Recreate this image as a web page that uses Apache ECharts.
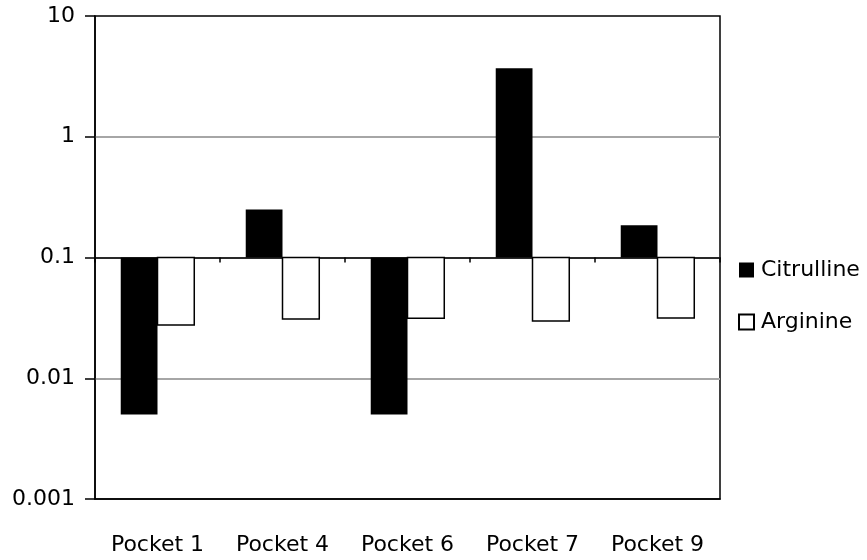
<!DOCTYPE html>
<html>
<head>
<meta charset="utf-8">
<script src="https://cdn.jsdelivr.net/npm/echarts@6/dist/echarts.min.js"></script>
<style>
html,body{margin:0;padding:0;background:#fff;}
#main{width:867px;height:560px;}
</style>
</head>
<body>
<div id="main"></div>
<script>
const categories = ['Pocket 1', 'Pocket 4', 'Pocket 6', 'Pocket 7', 'Pocket 9'];
const citrulline = [0.005, 0.25, 0.005, 3.7, 0.185];
const arginine = [0.0276, 0.031, 0.0314, 0.0298, 0.0316];
const yTickLabels = ['0.001', '0.01', '0.1', '1', '10'];
const baseline = 0.1;

const FONT = 'DejaVu Sans';
const chart = echarts.init(document.getElementById('main'), null, {renderer: 'canvas'});

function makeRender(seriesIdx, nSeries) {
  return function (params, api) {
    const xi = api.value(0);
    const v = api.value(1);
    const band = api.size([1, 0])[0];
    const bw = band / (nSeries + 1.4);
    const c = api.coord([xi, v]);
    const b = api.coord([xi, baseline]);
    const left = c[0] - (nSeries * bw) / 2 + seriesIdx * bw;
    const y0 = Math.min(c[1], b[1]);
    const h = Math.abs(c[1] - b[1]);
    return {
      type: 'rect',
      shape: {x: left, y: y0, width: bw, height: h},
      style: api.style()
    };
  };
}

const option = {
  backgroundColor: '#fff',
  animation: false,
  textStyle: {fontFamily: FONT},
  grid: [
    {left: 95, right: 147, top: 16, bottom: 61, show: true, borderColor: '#000', borderWidth: 1.5, backgroundColor: 'transparent'},
    {left: 95, right: 147, top: 257.5, height: 100, show: false}
  ],
  legend: {
    orient: 'vertical',
    left: 733,
    top: 254,
    itemWidth: 15,
    itemHeight: 15,
    itemGap: 30,
    icon: 'rect',
    textStyle: {fontFamily: FONT, fontSize: 22, color: '#000', lineHeight: 22, padding: [0, 0, 0, 2]},
    data: ['Citrulline', 'Arginine']
  },
  xAxis: [
    {
      type: 'category',
      gridIndex: 0,
      data: categories,
      position: 'bottom',
      axisLine: {show: true, onZero: false, lineStyle: {color: '#000', width: 1.5}},
      axisTick: {show: false},
      axisLabel: {fontFamily: FONT, fontSize: 22, color: '#000', margin: 35},
      splitLine: {show: false}
    },
    {
      type: 'category',
      gridIndex: 1,
      data: categories,
      position: 'top',
      axisLine: {show: true, onZero: false, lineStyle: {color: '#000', width: 1.5}},
      axisTick: {show: true, inside: true, length: 5, lineStyle: {color: '#000', width: 1.5}},
      axisLabel: {show: false},
      splitLine: {show: false}
    }
  ],
  yAxis: [
    {
      type: 'log',
      gridIndex: 0,
      logBase: 10,
      min: 0.001,
      max: 10,
      interval: 1,
      axisLine: {show: true, lineStyle: {color: '#000', width: 1.5}},
      axisTick: {show: true, length: 10, lineStyle: {color: '#000', width: 1.5}},
      axisLabel: {
        fontFamily: FONT, fontSize: 22, color: '#000', margin: 20,
        formatter: function (val) {
          const idx = Math.round(Math.log10(val)) + 3;
          return yTickLabels[idx] !== undefined ? yTickLabels[idx] : String(val);
        }
      },
      splitLine: {show: true, showMinLine: false, showMaxLine: false, lineStyle: {color: '#a6a6a6', width: 2}}
    },
    {
      type: 'value',
      gridIndex: 1,
      show: false
    }
  ],
  series: [
    {
      name: 'Citrulline',
      type: 'custom',
      xAxisIndex: 0,
      yAxisIndex: 0,
      z: 5,
      itemStyle: {color: '#000', borderColor: '#000', borderWidth: 0},
      renderItem: makeRender(0, 2),
      encode: {x: 0, y: 1},
      data: citrulline.map((v, i) => [i, v])
    },
    {
      name: 'Arginine',
      type: 'custom',
      xAxisIndex: 0,
      yAxisIndex: 0,
      z: 5,
      itemStyle: {color: '#fff', borderColor: '#000', borderWidth: 1.5},
      renderItem: makeRender(1, 2),
      encode: {x: 0, y: 1},
      data: arginine.map((v, i) => [i, v])
    }
  ]
};
chart.setOption(option);
</script>
</body>
</html>
